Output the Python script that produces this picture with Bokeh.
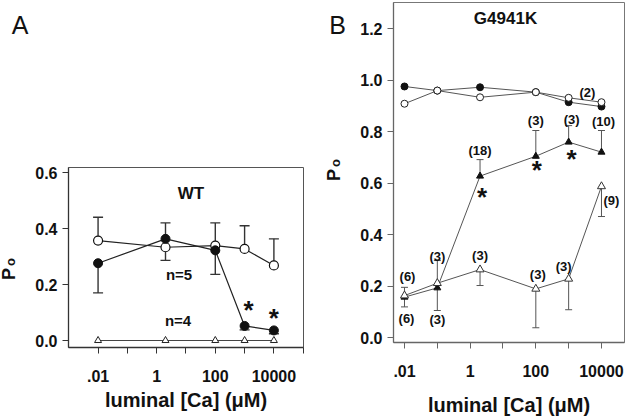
from bokeh.plotting import figure
from bokeh.layouts import row
from bokeh.models import (ColumnDataSource, FixedTicker, CustomJSTickFormatter,
                          PrintfTickFormatter, Range1d, Label, LabelSet, Div)
from bokeh.core.properties import value
from bokeh.embed import file_html
from bokeh.resources import INLINE

# ---------------- data ----------------
# Panel A (WT)
ca_A = [0.01, 2, 100, 1000, 10000]
wt_open = [0.357, 0.333, 0.339, 0.327, 0.268]
wt_open_err = [0.44, 0.42, 0.42, 0.41, 0.363]
wt_filled = [0.276, 0.363, 0.322, 0.052, 0.036]
wt_filled_err = [0.17, 0.286, 0.236, 0.038, 0.024]
wt_tri = [0.0, 0.0, 0.0, 0.0, 0.0]

# Panel B (G4941K)
ca_B = [0.01, 0.1, 2, 100, 1000, 10000]
mut_filled_circ = [0.976, 0.96, 0.973, 0.954, 0.915, 0.898]
mut_open_circ = [0.909, 0.96, 0.934, 0.954, 0.932, 0.915]
mut_filled_tri = [0.158, 0.194, 0.628, 0.705, 0.76, 0.721]
mut_filled_tri_err = [0.12, 0.106, 0.692, 0.805, 0.824, 0.805]
mut_open_tri = [0.164, 0.212, 0.265, 0.19, 0.229, 0.588]
mut_open_tri_err = [0.196, 0.30, 0.203, 0.039, 0.109, 0.471]
n_open_tri = ["(6)", "(3)", "(3)", "(3)", "(3)", "(9)"]
n_filled_tri = ["(6)", "(3)", "(18)", "(3)", "(3)", "(10)"]
n_circ = ["(2)"]

x_tick_values = [0.01, 1, 100, 10000]
yticks_A = [0.0, 0.2, 0.4, 0.6]
yticks_B = [0.0, 0.2, 0.4, 0.6, 0.8, 1.0, 1.2]

# ---------------- layout constants ----------------
FONT = "Liberation Sans"
H = 419
# panel A frame (page px): left 67, right 303, top 167, bottom 347
A_left, A_ppd, A_x0 = 67, 29.43, -3.009
A_zero, A_ppu = 340.0, 280.0
# panel B frame: left 393, right 624, top 2, bottom 342
B_left, B_ppd, B_x0 = 393, 32.83, -2.335
B_zero, B_ppu = 337.3, 257.5


def A_pt(px, py):
    return 10 ** (A_x0 + (px - A_left) / A_ppd), (A_zero - py) / A_ppu


def B_pt(px, py):
    return 10 ** (B_x0 + (px - B_left) / B_ppd), (B_zero - py) / B_ppu


xfmt = CustomJSTickFormatter(code="""
    var s = tick.toString();
    return tick < 1 ? s.replace(/^0/, '') : s;
""")


def style(p, yticks, minor, axis_col, outline_col, tick_standoff, label_standoff):
    p.frame_align = False
    p.xgrid.visible = False
    p.ygrid.visible = False
    p.outline_line_color = outline_col
    p.outline_line_width = 1
    p.background_fill_color = "white"
    p.border_fill_color = "white"
    p.xaxis.ticker = FixedTicker(ticks=x_tick_values, minor_ticks=minor)
    p.xaxis.formatter = xfmt
    p.yaxis.ticker = FixedTicker(ticks=yticks, minor_ticks=[])
    p.yaxis.formatter = PrintfTickFormatter(format="%.1f")
    for ax in p.axis:
        ax.axis_line_color = axis_col
        ax.axis_line_width = 1.3
        ax.major_tick_line_color = axis_col
        ax.minor_tick_line_color = axis_col
        ax.major_tick_out = 6
        ax.major_tick_in = 0
        ax.minor_tick_out = 6
        ax.minor_tick_in = 0
        ax.major_label_text_font = FONT
        ax.major_label_text_font_style = "bold"
        ax.major_label_text_font_size = "16px"
        ax.major_label_text_color = "#111"
        ax.axis_label_text_font = FONT
        ax.axis_label_text_font_style = "bold"
        ax.axis_label_text_font_size = "20px"
        ax.axis_label_text_color = "#111"
    p.yaxis.major_label_standoff = 5
    p.xaxis.major_label_standoff = tick_standoff
    p.xaxis.axis_label = "luminal [Ca] (\u03bcM)"
    p.xaxis.axis_label_standoff = label_standoff


def label(p, x, y, text, size):
    p.add_layout(Label(x=x, y=y, text=text, text_align="center",
                       text_baseline="middle", text_font=FONT,
                       text_font_size=size, text_font_style="bold",
                       text_color="#111"))


def labelset(p, src, size):
    p.add_layout(LabelSet(x="x", y="y", text="t", x_offset="xo", y_offset="yo",
                          source=src, text_align="center",
                          text_baseline="middle", text_font=value(FONT),
                          text_font_style=value("bold"),
                          text_font_size=value(size), text_color=value("#111")))


def errbars(p, x, y, e, color, width, cap):
    p.segment(x0=x, y0=y, x1=x, y1=e, line_color=color, line_width=width)
    p.scatter(x=x, y=e, marker="dash", size=cap, line_color=color,
              line_width=width)


def side_div(width, letter, letter_left, po_left, po_bottom):
    html = (
        f'<div style="position:relative;width:{width}px;height:{H}px;'
        f'font-family:\'{FONT}\';color:#111">'
        f'<div style="position:absolute;left:{letter_left}px;top:12.7px;'
        f'font-size:25px;line-height:25px;font-weight:normal">{letter}</div>'
        f'<div style="position:absolute;left:{po_left}px;top:{po_bottom}px;'
        f'transform:rotate(-90deg);transform-origin:0 0;white-space:nowrap;'
        f'font-weight:bold;line-height:18px">'
        f'<span style="font-size:18px">P</span>'
        f'<span style="font-size:13px;margin-left:2px">o</span></div></div>'
    )
    return Div(text=html, width=width, height=H, margin=0)


# ---------------- Panel A ----------------
divA = side_div(32, "A", 11.7, 0.3, 280)
pA = figure(width=288, height=H, x_axis_type="log",
            x_range=Range1d(10 ** A_x0, 10 ** (A_x0 + 236 / A_ppd)),
            y_range=Range1d(-(347 - A_zero) / A_ppu, (A_zero - 167) / A_ppu),
            output_backend="svg", toolbar_location=None, title_location=None,
            min_border_left=35, min_border_right=17, min_border_top=167,
            min_border_bottom=H - 347, margin=0)
style(pA, yticks_A, [0.1, 10, 1000, 100000], "#333", "#555", 16, 4)

pA.line(ca_A, wt_tri, line_color="#444", line_width=1)
pA.line(ca_A, wt_filled, line_color="#222", line_width=1.2)
pA.line(ca_A, wt_open, line_color="#222", line_width=1.2)
errbars(pA, ca_A, wt_open, wt_open_err, "#333", 1.4, 10)
errbars(pA, ca_A, wt_filled, wt_filled_err, "#333", 1.4, 10)
pA.scatter(ca_A, wt_tri, marker="triangle", size=7, fill_color="white",
           line_color="#222", line_width=1)
pA.scatter(ca_A, wt_open, marker="circle", size=9, fill_color="white",
           line_color="#111", line_width=1.2)
pA.scatter(ca_A, wt_filled, marker="circle", size=9, fill_color="#111",
           line_color="#111", line_width=1)

label(pA, *A_pt(190, 193), "WT", "17px")
label(pA, *A_pt(178, 274), "n=5", "15px")
label(pA, *A_pt(177, 320), "n=4", "15px")
labelset(pA, ColumnDataSource(dict(x=ca_A[3:], y=wt_filled[3:],
                                   xo=[4, 0], yo=[16, 12], t=["*", "*"])),
         "26px")

# ---------------- Panel B ----------------
divB = side_div(30, "B", 9.2, 4.8, 181)
pB = figure(width=275, height=H, x_axis_type="log",
            x_range=Range1d(10 ** B_x0, 10 ** (B_x0 + 231 / B_ppd)),
            y_range=Range1d(-(342 - B_zero) / B_ppu, (B_zero - 2) / B_ppu),
            output_backend="svg", toolbar_location=None, title_location=None,
            min_border_left=43, min_border_right=1, min_border_top=2,
            min_border_bottom=H - 342, margin=0)
style(pB, yticks_B, [0.1, 10, 1000], "#666", "#777", 16, 14)

lc = "#555"
pB.line(ca_B, mut_filled_circ, line_color=lc, line_width=1)
pB.line(ca_B, mut_open_circ, line_color=lc, line_width=1)
pB.line(ca_B, mut_filled_tri, line_color=lc, line_width=1)
pB.line(ca_B, mut_open_tri, line_color=lc, line_width=1)
errbars(pB, ca_B, mut_filled_tri, mut_filled_tri_err, "#555", 1, 7)
errbars(pB, ca_B, mut_open_tri, mut_open_tri_err, "#555", 1, 7)
pB.scatter(ca_B, mut_filled_tri, marker="triangle", size=7, fill_color="#111",
           line_color="#111")
pB.scatter(ca_B, mut_open_tri, marker="triangle", size=8, fill_color="white",
           line_color="#333", line_width=1)
pB.scatter(ca_B, mut_filled_circ, marker="circle", size=7, fill_color="#111",
           line_color="#111")
pB.scatter(ca_B, mut_open_circ, marker="circle", size=7, fill_color="white",
           line_color="#222", line_width=1)

# n labels: pixel offsets (right, up) from the data point they belong to
off_open = [(3, 19), (0, 27), (0, 14), (2, 14), (-5, 12), (10, -14)]
off_filled = [(2, -21), (0, -32), (0, 26), (0, 36), (3, 23), (2, 31)]
nx, ny, nt, nxo, nyo = [], [], [], [], []
for i in range(len(ca_B)):
    nx += [ca_B[i], ca_B[i]]
    ny += [mut_open_tri[i], mut_filled_tri[i]]
    nt += [n_open_tri[i], n_filled_tri[i]]
    nxo += [off_open[i][0], off_filled[i][0]]
    nyo += [off_open[i][1], off_filled[i][1]]
nx.append(ca_B[-1]); ny.append(mut_open_circ[-1]); nt.append(n_circ[0])
nxo.append(-14); nyo.append(10)
labelset(pB, ColumnDataSource(dict(x=nx, y=ny, t=nt, xo=nxo, yo=nyo)), "13px")
labelset(pB, ColumnDataSource(dict(x=ca_B[2:5], y=mut_filled_tri[2:5],
                                   xo=[2, 1, 3], yo=[-21, -14, -17],
                                   t=["*", "*", "*"])), "26px")
label(pB, *B_pt(505, 18), "G4941K", "17px")

layout = row(divA, pA, divB, pB)
open("out.html", "w").write(file_html(layout, INLINE))
